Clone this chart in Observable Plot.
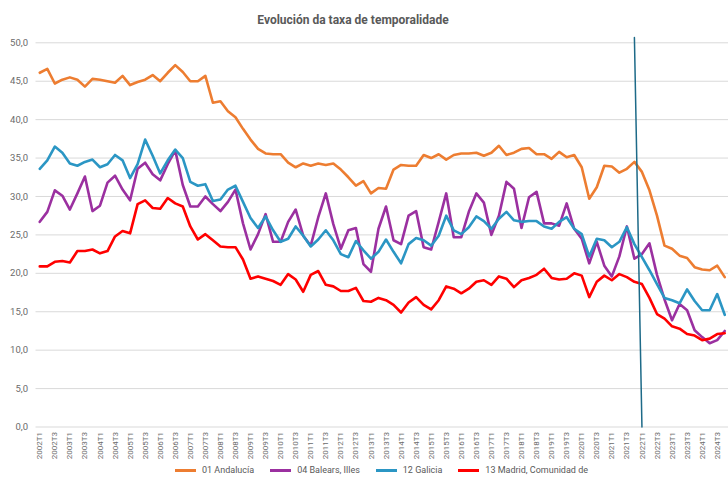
<!DOCTYPE html>
<html>
<head>
<meta charset="utf-8">
<script src="https://cdn.jsdelivr.net/npm/d3@7"></script>
<script src="https://cdn.jsdelivr.net/npm/@observablehq/plot@0.6"></script>
<style>
  html, body { margin: 0; padding: 0; background: #fff; }
  #wrap { position: relative; width: 728px; height: 477px; overflow: hidden; font-family: Roboto, "Open Sans", sans-serif; }
  #title { position: absolute; top: 13px; left: 203px; width: 300px; text-align: center; font-size: 12px; font-weight: 700; color: #595959; white-space: nowrap; }
  #chart { position: absolute; top: 0; left: 0; }
  #legend { position: absolute; top: 465px; left: 175px; height: 11px; display: flex; align-items: center; gap: 16px; font-size: 9px; line-height: 11px; color: #595959; white-space: nowrap; }
  .item { display: flex; align-items: center; gap: 6px; }
  .sw { display: inline-block; width: 21px; height: 3px; }
</style>
</head>
<body>
<div id="wrap">
  <div id="title">Evolución da taxa de temporalidade</div>
  <div id="chart"></div>
  <div id="legend"></div>
</div>
<script>
// Categories: quarters 2002T1 .. 2024T4
const years = d3.range(2002, 2025).map(String);
const quarterSuffixes = ["T1", "T2", "T3", "T4"];
const quarters = years.flatMap(y => quarterSuffixes.map(q => y + q));
const xTickLabels = quarters.filter(q => q.endsWith("T1") || q.endsWith("T3"));
const yTicks = [0, 5, 10, 15, 20, 25, 30, 35, 40, 45, 50];

const seriesNames = ["01 Andalucía", "04 Balears, Illes", "12 Galicia", "13 Madrid, Comunidad de"];
const seriesColors = ["#ed7d31", "#9b30a0", "#2b96c4", "#ff0000"];

const andalucia = [
  46.1, 46.6, 44.7, 45.2, 45.5, 45.2, 44.3, 45.3, 45.2, 45.0, 44.8, 45.7, 44.5, 44.9, 45.2, 45.8,
  45.0, 46.1, 47.1, 46.2, 45.0, 45.0, 45.7, 42.2, 42.4, 41.1, 40.3, 38.8, 37.4, 36.2, 35.6, 35.5,
  35.5, 34.4, 33.8, 34.3, 34.0, 34.3, 34.1, 34.3, 33.5, 32.5, 31.4, 32.0, 30.4, 31.1, 31.0, 33.5,
  34.1, 34.0, 34.0, 35.4, 35.0, 35.5, 34.8, 35.4, 35.6, 35.6, 35.7, 35.3, 35.7, 36.6, 35.4, 35.7,
  36.2, 36.3, 35.5, 35.5, 34.9, 35.8, 35.1, 35.4, 33.8, 29.7, 31.2, 34.0, 33.9, 33.1, 33.6, 34.5,
  33.2, 30.8, 27.5, 23.6, 23.2, 22.3, 22.0, 20.8, 20.5, 20.4, 21.0, 19.5
];
const baleares = [
  26.7, 28.0, 30.8, 30.1, 28.3, 30.4, 32.6, 28.1, 28.8, 31.8, 32.7, 30.9, 29.5, 33.6, 34.4, 32.9,
  32.1, 34.2, 36.0, 31.5, 28.7, 28.7, 30.0, 29.0, 28.1, 29.3, 30.9, 26.5, 23.1, 25.1, 27.7, 24.1,
  24.1, 26.7, 28.3, 24.9, 23.6, 27.3, 30.4, 26.4, 23.2, 25.6, 25.9, 21.2, 20.2, 25.8, 28.7, 24.3,
  23.8, 27.5, 28.1, 23.4, 23.1, 26.7, 30.4, 24.7, 24.7, 28.0, 30.4, 29.2, 25.0, 27.5, 31.9, 31.0,
  25.9, 29.9, 30.6, 26.5, 26.5, 26.2, 29.1, 25.8, 24.5, 21.3, 24.1, 21.0, 19.6, 22.2, 26.1, 21.9,
  22.5, 23.9, 19.8, 16.6, 13.9, 16.0, 15.2, 12.6, 11.7, 10.9, 11.3, 12.5
];
const galicia = [
  33.6, 34.7, 36.5, 35.7, 34.3, 34.0, 34.5, 34.8, 33.8, 34.2, 35.4, 34.7, 32.4, 34.2, 37.4, 35.3,
  33.0, 34.7, 36.1, 35.0, 31.9, 31.4, 31.6, 29.4, 29.6, 30.9, 31.4, 29.3, 27.2, 25.9, 27.4, 25.6,
  24.1, 24.5, 26.1, 24.9, 23.5, 24.4, 25.6, 24.3, 22.5, 22.1, 24.2, 23.0, 21.9, 22.8, 24.4, 22.8,
  21.3, 23.8, 24.6, 24.3, 23.6, 24.9, 27.5, 25.6, 25.1, 26.0, 27.4, 26.8, 25.8, 27.1, 28.0, 26.9,
  26.7, 26.8, 26.8, 26.1, 25.8, 26.7, 27.3, 25.8, 25.1, 22.2, 24.5, 24.3, 23.4, 24.1, 26.0, 23.8,
  22.1, 20.4, 18.6, 16.8, 16.5, 16.1, 17.9, 16.4, 15.2, 15.2, 17.3, 14.6
];
const madrid = [
  20.9, 20.9, 21.5, 21.6, 21.4, 22.9, 22.9, 23.1, 22.6, 22.9, 24.8, 25.5, 25.2, 29.0, 29.5, 28.5,
  28.4, 29.8, 29.1, 28.7, 26.1, 24.4, 25.1, 24.3, 23.5, 23.4, 23.4, 21.8, 19.3, 19.6, 19.3, 19.0,
  18.5, 19.9, 19.2, 17.6, 19.8, 20.3, 18.5, 18.3, 17.7, 17.7, 18.1, 16.4, 16.3, 16.8, 16.5, 15.9,
  14.9, 16.2, 16.9, 15.9, 15.3, 16.5, 18.3, 18.0, 17.4, 18.0, 18.9, 19.1, 18.5, 19.6, 19.3, 18.2,
  19.1, 19.4, 19.8, 20.6, 19.4, 19.2, 19.3, 20.0, 19.7, 16.9, 18.9, 19.7, 19.1, 19.9, 19.5, 18.9,
  18.6, 16.8, 14.7, 14.1, 13.1, 12.8, 12.1, 11.9, 11.3, 11.5, 12.1, 12.2
];
// Hand-drawn vertical marker line in the reference (from 2021T4 at top to 2022T1 at bottom)
const markerQuarters = ["2021T4", "2022T1"];
const markerValues = [50.7, 0];

const seriesValues = [andalucia, baleares, galicia, madrid];
const rows = seriesNames.flatMap((s, k) => seriesValues[k].map((v, i) => ({q: quarters[i], v, s})));
const marker = markerQuarters.map((q, i) => ({q, v: markerValues[i]}));

const chart = Plot.plot({
  width: 728,
  height: 477,
  marginTop: 42.3,
  marginBottom: 50.5,
  marginLeft: 35.5,
  marginRight: 0,
  style: {fontFamily: "Roboto, 'Open Sans', sans-serif", background: "transparent", overflow: "visible"},
  x: {type: "point", domain: quarters, padding: 0.5, align: 0.5},
  y: {domain: [0, 50]},
  color: {domain: seriesNames, range: seriesColors},
  marks: [
    Plot.ruleY(yTicks, {stroke: "#d9d9d9", strokeWidth: 1}),
    Plot.axisY({ticks: yTicks, tickSize: 0, tickPadding: 8, fontSize: 9.5, fill: "#6b6b6b",
      tickFormat: d => d.toFixed(1).replace(".", ","), label: null}),
    Plot.axisX({ticks: xTickLabels, tickSize: 0, tickPadding: 5, tickRotate: -90, fontSize: 8, fill: "#6b6b6b", label: null}),
    Plot.line(rows, {x: "q", y: "v", z: "s", stroke: "s", strokeWidth: 2.6, strokeLinejoin: "round"}),
    Plot.line(marker, {x: "q", y: "v", stroke: "#1d6a88", strokeWidth: 1.5})
  ]
});
document.getElementById("chart").appendChild(chart);

const legend = document.getElementById("legend");
seriesNames.forEach((name, k) => {
  const item = document.createElement("div");
  item.className = "item";
  const sw = document.createElement("span");
  sw.className = "sw";
  sw.style.background = seriesColors[k];
  const t = document.createElement("span");
  t.textContent = name;
  item.appendChild(sw);
  item.appendChild(t);
  legend.appendChild(item);
});
</script>
</body>
</html>
